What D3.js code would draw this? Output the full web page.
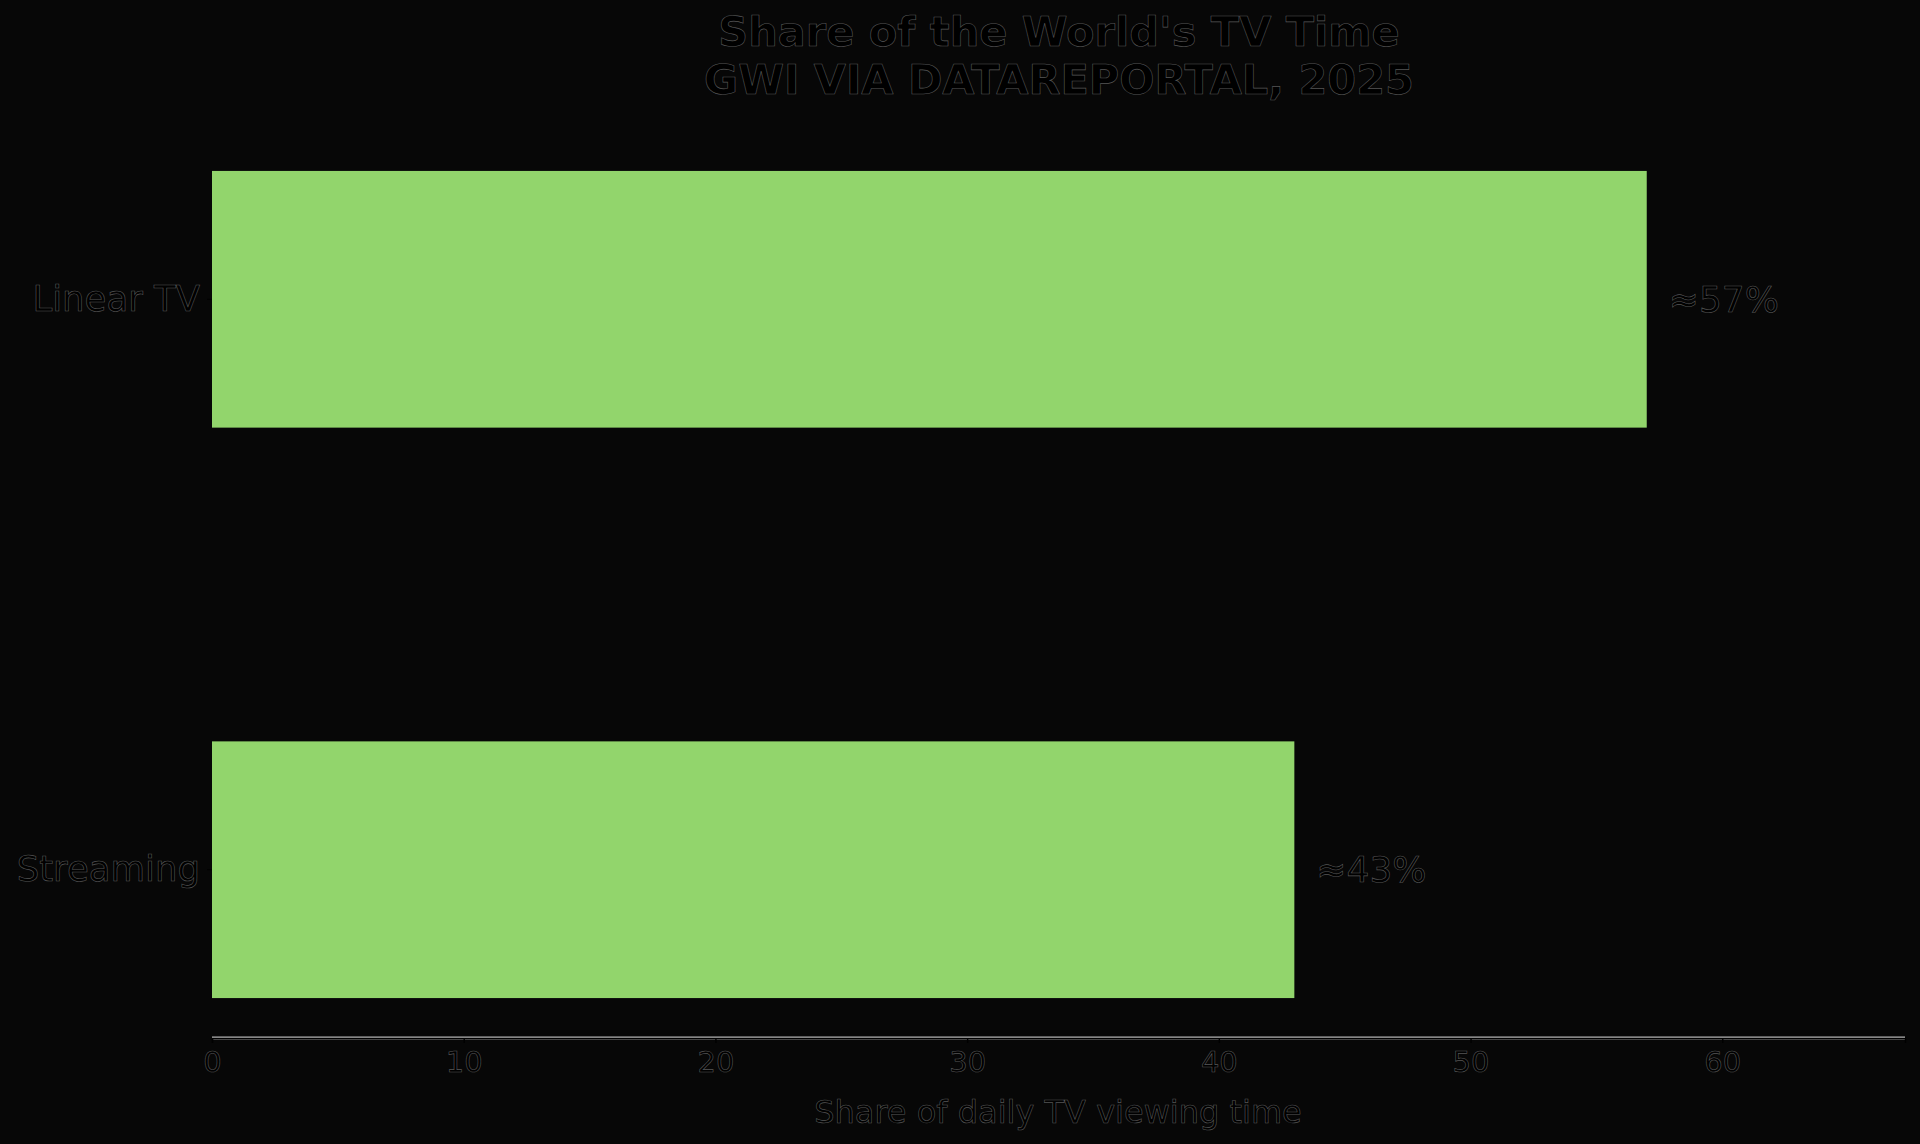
<!DOCTYPE html>
<html>
<head>
<meta charset="utf-8">
<script src="https://cdn.jsdelivr.net/npm/d3@7"></script>
<style>
  html, body { margin: 0; padding: 0; background: #070707; }
  svg text { fill: #000; stroke: rgba(170,170,170,0.5); stroke-width: 0.6px; font-family: "DejaVu Sans", sans-serif; }
</style>
</head>
<body>
<svg id="chart" width="1920" height="1144"></svg>
<script>
var categories = ["Linear TV", "Streaming"];
var shares = [57, 43];
var bar_labels = ["≈57%", "≈43%"];
var x_ticks = [0, 10, 20, 30, 40, 50, 60];
var title_lines = ["Share of the World's TV Time", "GWI VIA DATAREPORTAL, 2025"];
var x_title = "Share of daily TV viewing time";

function draw_chart(){
    var svg = d3.select("#chart");
    var left = 212, right = 1905, top = 131, bottom = 1038;

    var x = d3.scaleLinear()
        .domain([0, d3.max(shares) * 1.18])
        .range([left, right]);

    var y = d3.scaleBand()
        .domain(categories)
        .range([top, bottom])
        .paddingInner(0.55)
        .paddingOuter(0.07);

    // bars
    svg.append("g").selectAll("rect")
        .data(categories)
        .enter().append("rect")
            .attr("x", x(0))
            .attr("y", function(d){ return y(d); })
            .attr("width", function(d, i){ return x(shares[i]) - x(0); })
            .attr("height", y.bandwidth())
            .attr("fill", "#92d56c");

    // value labels
    svg.append("g").selectAll("text")
        .data(categories)
        .enter().append("text")
            .attr("x", function(d, i){ return x(shares[i]) + 22; })
            .attr("y", function(d){ return y(d) + y.bandwidth()/2; })
            .attr("dy", ".35em")
            .style("font-size", "36px")
            .text(function(d, i){ return bar_labels[i]; });

    // x axis: light halo under a black line
    svg.append("line")
        .attr("x1", left).attr("x2", right)
        .attr("y1", bottom).attr("y2", bottom)
        .attr("stroke", "#b5b5b5").attr("stroke-width", 3.2);

    var gx = svg.append("g")
        .attr("transform", "translate(0," + bottom + ")")
        .call(d3.axisBottom(x).tickValues(x_ticks).tickSize(5).tickPadding(8));
    gx.select(".domain").attr("stroke", "#000").attr("stroke-width", 1.4);
    gx.selectAll(".tick line").attr("stroke", "#000").attr("stroke-width", 1.4);
    gx.selectAll(".tick text")
        .style("font-size", "29px")
        .attr("fill", null)
        .style("fill", "#000");

    var gy = svg.append("g")
        .attr("transform", "translate(" + left + ",0)")
        .call(d3.axisLeft(y).tickSize(5).tickPadding(7));
    gy.select(".domain").remove();
    gy.selectAll(".tick line").attr("stroke", "#000");
    gy.selectAll(".tick text")
        .style("font-size", "35.5px")
        .attr("fill", null)
        .style("fill", "#000");

    // x title
    svg.append("text")
        .attr("x", 1058)
        .attr("y", 1123)
        .attr("text-anchor", "middle")
        .style("font-size", "32px")
        .text(x_title);

    // chart title
    svg.append("text")
        .attr("x", 1059).attr("y", 46)
        .attr("text-anchor", "middle")
        .style("font-size", "41.5px")
        .style("font-weight", "bold")
        .text(title_lines[0]);
    svg.append("text")
        .attr("x", 1059).attr("y", 94)
        .attr("text-anchor", "middle")
        .style("font-size", "41.5px")
        .style("font-weight", "bold")
        .text(title_lines[1]);
}

draw_chart();
</script>
</body>
</html>
